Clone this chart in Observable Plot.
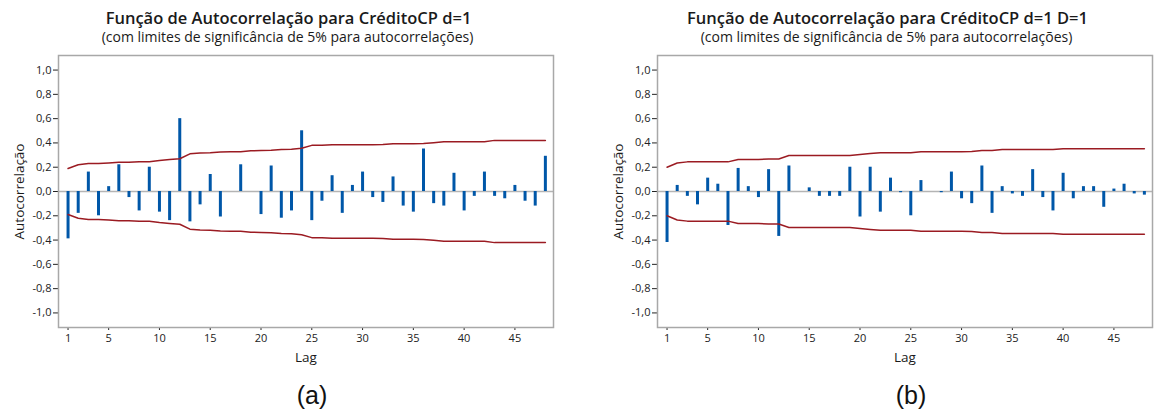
<!DOCTYPE html>
<html>
<head>
<meta charset="utf-8">
<script src="https://cdn.jsdelivr.net/npm/d3@7"></script>
<script src="https://cdn.jsdelivr.net/npm/@observablehq/plot@0.6"></script>
<style>
  html, body { margin: 0; padding: 0; background: #fff; }
  #wrap { position: relative; width: 1154px; height: 416px; overflow: hidden; font-family: "Open Sans", sans-serif; }
  .panel { position: absolute; top: 0; width: 556px; height: 416px; }
  .title { position: absolute; left: 0; width: 577px; top: 6px; text-align: center; font-size: 16.5px; font-weight: 600; color: #1a1a1a; white-space: nowrap; }
  .subtitle { position: absolute; left: 0; width: 575px; top: 27px; text-align: center; font-size: 14px; color: #1a1a1a; white-space: nowrap; }
  .caption { position: absolute; top: 381px; font-family: "Liberation Sans", Arial, sans-serif; font-size: 25px; color: #111; text-align: center; width: 60px; }
</style>
</head>
<body>
<div id="wrap"></div>
<script>
const lags = [1,2,3,4,5,6,7,8,9,10,11,12,13,14,15,16,17,18,19,20,21,22,23,24,25,26,27,28,29,30,31,32,33,34,35,36,37,38,39,40,41,42,43,44,45,46,47,48];

const titleA = "Função de Autocorrelação para CréditoCP d=1";
const titleB = "Função de Autocorrelação para CréditoCP d=1 D=1";
const subtitle = "(com limites de significância de 5% para autocorrelações)";
const captionA = "(a)";
const captionB = "(b)";
const xLabel = "Lag";
const yLabel = "Autocorrelação";
const xTicks = [1,5,10,15,20,25,30,35,40,45];
const yTicks = [-1,-0.8,-0.6,-0.4,-0.2,0,0.2,0.4,0.6,0.8,1];

const acfA = [-0.39,-0.18,0.16,-0.20,0.04,0.22,-0.05,-0.16,0.20,-0.17,-0.24,0.60,-0.25,-0.11,0.14,-0.21,0.00,0.22,0.00,-0.19,0.21,-0.22,-0.16,0.50,-0.24,-0.08,0.13,-0.18,0.05,0.16,-0.05,-0.09,0.12,-0.12,-0.17,0.35,-0.10,-0.12,0.15,-0.16,-0.04,0.16,-0.04,-0.06,0.05,-0.08,-0.12,0.29];
const limA = [0.19,0.22,0.23,0.23,0.235,0.24,0.24,0.245,0.245,0.255,0.263,0.27,0.31,0.317,0.32,0.326,0.327,0.328,0.336,0.337,0.339,0.345,0.347,0.356,0.38,0.38,0.386,0.386,0.386,0.386,0.386,0.387,0.394,0.394,0.394,0.395,0.402,0.41,0.41,0.41,0.41,0.41,0.421,0.421,0.421,0.421,0.421,0.421];

const acfB = [-0.42,0.05,-0.04,-0.11,0.11,0.06,-0.28,0.19,0.04,-0.05,0.18,-0.37,0.21,0.00,0.03,-0.04,-0.04,-0.04,0.20,-0.21,0.20,-0.17,0.11,-0.01,-0.20,0.09,0.00,-0.01,0.16,-0.06,-0.10,0.21,-0.18,0.04,-0.02,-0.04,0.18,-0.05,-0.16,0.15,-0.06,0.04,0.04,-0.13,0.02,0.06,-0.02,-0.03];
const limB = [0.20,0.235,0.244,0.244,0.244,0.244,0.244,0.263,0.263,0.263,0.268,0.268,0.296,0.296,0.296,0.296,0.296,0.296,0.297,0.304,0.312,0.32,0.32,0.32,0.32,0.328,0.328,0.328,0.328,0.328,0.329,0.337,0.338,0.345,0.345,0.345,0.345,0.345,0.346,0.353,0.353,0.353,0.353,0.353,0.353,0.353,0.353,0.353];

const fmt = d => d.toFixed(1).replace(".", ",").replace("-0,0", "0,0");

function makePanel(left, title, acf, lim, caption) {
  const rows = lags.map((lag, i) => ({lag, acf: acf[i], up: lim[i], lo: -lim[i]}));
  const panel = document.createElement("div");
  panel.className = "panel";
  panel.style.left = left + "px";
  const t = document.createElement("div"); t.className = "title"; t.textContent = title; panel.appendChild(t);
  const s = document.createElement("div"); s.className = "subtitle"; s.textContent = subtitle; panel.appendChild(s);

  const chart = Plot.plot({
    width: 556,
    height: 330,
    marginLeft: 58,
    marginRight: 3,
    marginTop: 7,
    marginBottom: 51,
    style: {fontFamily: "Open Sans, sans-serif", fontSize: "11px", color: "#222", background: "transparent"},
    x: {domain: [0.06, 48.8], ticks: xTicks, tickSize: 3, tickPadding: 4, label: xLabel, labelArrow: "none", labelAnchor: "center", labelOffset: 34},
    y: {domain: [-1.12, 1.12], ticks: yTicks, tickFormat: fmt, tickSize: 5, tickPadding: 2, label: yLabel, labelArrow: "none", labelAnchor: "center", labelOffset: 44},
    marks: [
      Plot.ruleY([0], {stroke: "#b4b4b4", strokeWidth: 1.5}),
      Plot.ruleX(rows, {x: "lag", y1: 0, y2: "acf", stroke: "#0057a8", strokeWidth: 3}),
      Plot.line(rows, {x: "lag", y: "up", stroke: "#9b1b22", strokeWidth: 1.5}),
      Plot.line(rows, {x: "lag", y: "lo", stroke: "#9b1b22", strokeWidth: 1.5}),
      Plot.frame({stroke: "#a8a8a8", strokeWidth: 1.5})
    ]
  });
  chart.style.position = "absolute";
  chart.style.left = "0px";
  chart.style.top = "48px";
  panel.appendChild(chart);

  // clean axis labels: remove arrows and enlarge
  chart.querySelectorAll("text").forEach(el => {
    const txt = el.textContent;
    if (txt.includes(xLabel) || txt.includes(yLabel)) {
      const clean = txt.includes(yLabel) ? yLabel : xLabel;
      if (txt !== clean) {
        el.querySelectorAll("tspan").forEach(ts => ts.remove());
        el.textContent = clean;
      }
      el.setAttribute("font-size", "13.5");
      el.style.fontSize = "13.5px";
      el.setAttribute("fill", "#1a1a1a");
    }
  });

  const c = document.createElement("div"); c.className = "caption"; c.textContent = caption;
  c.style.left = (312 - 30) + "px";
  panel.appendChild(c);
  document.getElementById("wrap").appendChild(panel);
}

makePanel(0, titleA, acfA, limA, captionA);
makePanel(599, titleB, acfB, limB, captionB);
</script>
</body>
</html>
